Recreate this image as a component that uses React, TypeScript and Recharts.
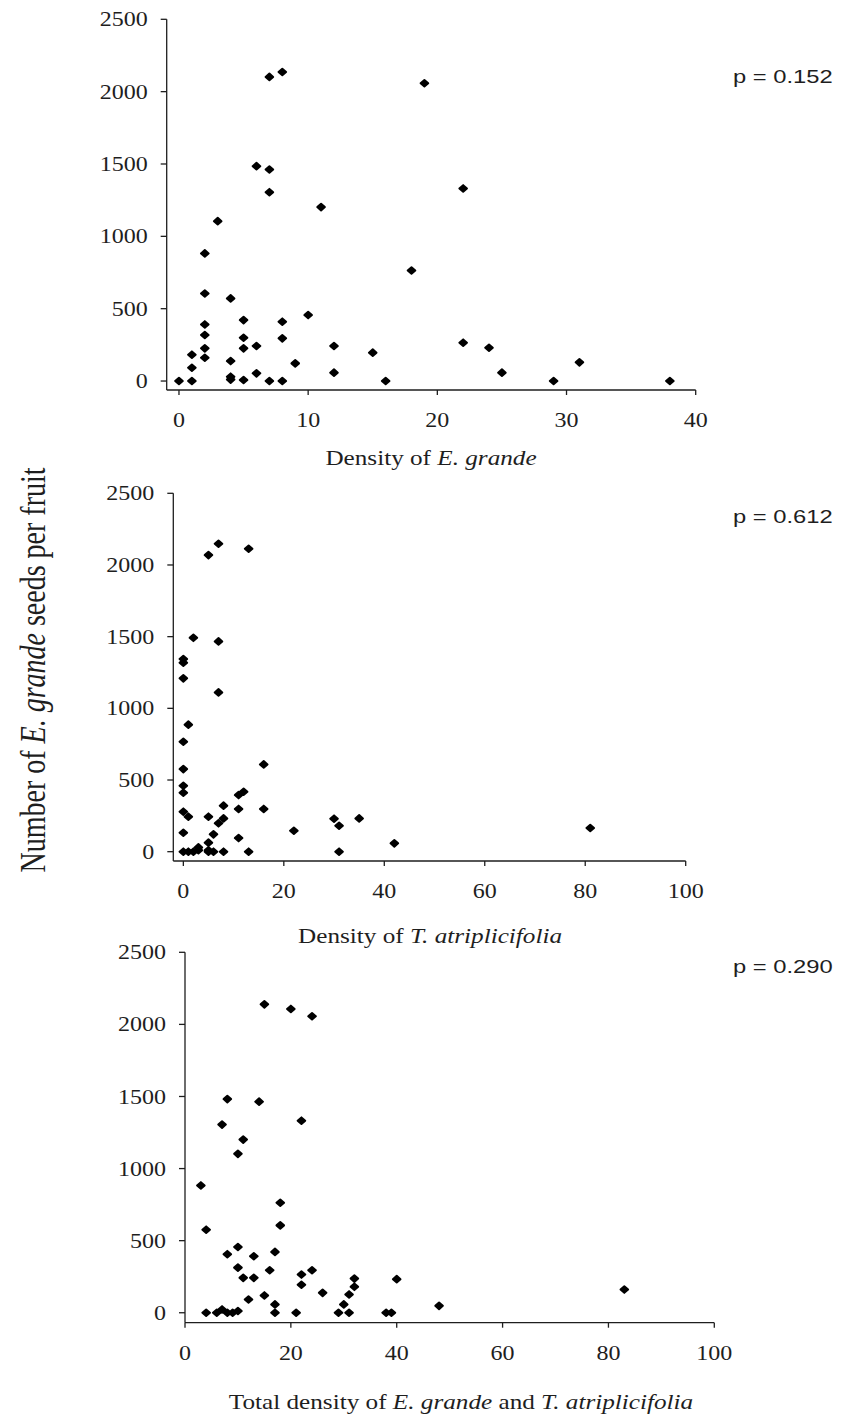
import { ScatterChart, Scatter, XAxis, YAxis } from "recharts";

// panel 1: density of E. grande
const egDensity = [0, 1, 1, 1, 2, 2, 2, 2, 2, 2, 3, 4, 4, 4, 4, 5, 5, 5, 5, 6, 6, 6, 7, 7, 7, 7, 8, 8, 8, 8, 9, 10, 11, 12, 12, 15, 16, 18, 19, 22, 22, 24, 25, 29, 31, 38];
const egSeeds = [0, 0, 92, 182, 161, 226, 318, 391, 605, 882, 1105, 138, 30, 10, 571, 421, 299, 226, 7, 242, 53, 1485, 1462, 1305, 2102, 0, 2136, 410, 295, 0, 122, 456, 1202, 242, 58, 196, 0, 764, 2058, 1331, 265, 230, 58, 0, 129, 0];

// panel 2: density of T. atriplicifolia
const taDensity = [0, 1, 2, 3, 3, 5, 5, 5, 6, 8, 13, 31, 0, 0, 1, 0, 0, 0, 0, 1, 0, 0, 0, 2, 7, 7, 5, 7, 13, 5, 6, 7, 8, 8, 11, 11, 11, 12, 16, 16, 22, 30, 31, 35, 42, 81];
const taSeeds = [0, 0, 0, 10, 30, 0, 10, 63, 0, 0, 0, 0, 132, 279, 244, 411, 460, 576, 767, 886, 1209, 1318, 1344, 1492, 1467, 1111, 2069, 2148, 2113, 244, 121, 198, 232, 321, 95, 298, 395, 418, 609, 298, 146, 230, 181, 232, 58, 165];

// panel 3: total density
const totalDensity = [3, 4, 4, 6, 7, 8, 9, 10, 8, 7, 11, 10, 8, 10, 10, 11, 12, 13, 13, 14, 15, 15, 16, 17, 17, 17, 18, 18, 20, 21, 22, 22, 22, 24, 24, 26, 29, 30, 31, 31, 32, 32, 38, 39, 40, 48, 83];
const totalSeeds = [883, 576, 0, 0, 23, 0, 0, 12, 1482, 1305, 1201, 1102, 406, 456, 313, 242, 92, 392, 242, 1464, 2139, 120, 295, 422, 58, 0, 763, 606, 2107, 0, 1332, 265, 194, 2056, 295, 138, 0, 58, 0, 127, 180, 237, 0, 0, 233, 48, 161];

const seedTicks = [0, 500, 1000, 1500, 2000, 2500];
const egTicks = [0, 10, 20, 30, 40];
const taTicks = [0, 20, 40, 60, 80, 100];

const pValues = ["p = 0.152", "p = 0.612", "p = 0.290"];

const toPoints = (xs: number[], ys: number[]) => xs.map((x, i) => ({ x, y: ys[i] }));

const SERIF = "'Liberation Serif', 'Times New Roman', serif";
const INK = "#1e1e1e";
const STRETCH = 1.2;
const TITLE_STRETCH = 1.26;

const Diamond = (props: any) => {
  const { cx, cy } = props;
  if (cx == null || cy == null) return null;
  const w = 3.8;
  const h = 3.3;
  return (
    <path
      d={`M${cx - w},${cy} L${cx},${cy - h} L${cx + w},${cy} L${cx},${cy + h} Z`}
      fill="#000"
      stroke="#000"
      strokeWidth={2}
      strokeLinejoin="round"
    />
  );
};

const XTick = ({ x, y, payload }: any) => (
  <g transform={`translate(${x},${y}) scale(${STRETCH},1)`}>
    <text textAnchor="middle" dy="0.71em" fontFamily={SERIF} fontSize={20} fill={INK}>
      {payload.value}
    </text>
  </g>
);

const YTick = ({ x, y, payload }: any) => (
  <g transform={`translate(${x},${y}) scale(${STRETCH},1)`}>
    <text textAnchor="end" dy="0.355em" fontFamily={SERIF} fontSize={20} fill={INK}>
      {payload.value}
    </text>
  </g>
);

interface PanelProps {
  top: number;
  height: number;
  margin: { top: number; right: number; bottom: number; left: number };
  data: { x: number; y: number }[];
  xDomain: [number, number];
  xTicks: number[];
  yDomain: [number, number];
}

function Panel({ top, height, margin, data, xDomain, xTicks, yDomain }: PanelProps) {
  return (
    <div style={{ position: "absolute", left: 0, top, width: 857, height }}>
      <ScatterChart width={857} height={height} margin={margin}>
        <XAxis
          type="number"
          dataKey="x"
          domain={xDomain}
          ticks={xTicks}
          interval={0}
          height={40}
          stroke={INK}
          strokeWidth={1.3}
          tickSize={5}
          tickMargin={18}
          tick={<XTick />}
        />
        <YAxis
          type="number"
          dataKey="y"
          domain={yDomain}
          ticks={seedTicks}
          interval={0}
          width={60}
          stroke={INK}
          strokeWidth={1.3}
          tickSize={6}
          tickMargin={13}
          tick={<YTick />}
        />
        <Scatter data={data} shape={<Diamond />} isAnimationActive={false} />
      </ScatterChart>
    </div>
  );
}

export default function App() {
  return (
    <div style={{ position: "absolute", left: 0, top: 0, width: 857, height: 1418, background: "#fff" }}>
      <Panel
        top={0}
        height={480}
        margin={{ top: 19.3, right: 161.3, bottom: 50, left: 106.7 }}
        data={toPoints(egDensity, egSeeds)}
        xDomain={[-0.95, 40]}
        xTicks={egTicks}
        yDomain={[-62, 2500]}
      />
      <Panel
        top={470}
        height={480}
        margin={{ top: 23.3, right: 171.3, bottom: 49, left: 113.3 }}
        data={toPoints(taDensity, taSeeds)}
        xDomain={[-2, 100]}
        xTicks={taTicks}
        yDomain={[-65, 2500]}
      />
      <Panel
        top={940}
        height={478}
        margin={{ top: 12.3, right: 142.7, bottom: 55.3, left: 125 }}
        data={toPoints(totalDensity, totalSeeds)}
        xDomain={[0, 100]}
        xTicks={taTicks}
        yDomain={[-69, 2500]}
      />
      <svg
        width={857}
        height={1418}
        style={{ position: "absolute", left: 0, top: 0, pointerEvents: "none" }}
      >
        <g fontFamily={SERIF} fontSize={20} fill={INK}>
          <g transform={`translate(431,465) scale(${TITLE_STRETCH},1)`}>
            <text textAnchor="middle">
              Density of <tspan fontStyle="italic">E. grande</tspan>
            </text>
          </g>
          <g transform={`translate(430,943) scale(${TITLE_STRETCH},1)`}>
            <text textAnchor="middle">
              Density of <tspan fontStyle="italic">T. atriplicifolia</tspan>
            </text>
          </g>
          <g transform={`translate(461,1409) scale(${TITLE_STRETCH},1)`}>
            <text textAnchor="middle">
              Total density of <tspan fontStyle="italic">E. grande</tspan> and{" "}
              <tspan fontStyle="italic">T. atriplicifolia</tspan>
            </text>
          </g>
        </g>
        <g transform={`translate(33,670) scale(1.25,1) rotate(-90)`}>
          <text textAnchor="middle" dominantBaseline="central" fontFamily={SERIF} fontSize={28} fill={INK}>
            Number of <tspan fontStyle="italic">E. grande</tspan> seeds per fruit
          </text>
        </g>
        <g fontFamily="'Liberation Sans', Arial, sans-serif" fontSize={19} fill={INK}>
          {pValues.map((p, i) => (
            <g key={p} transform={`translate(733,${[83, 523, 973][i]}) scale(1.25,1)`}>
              <text>{p}</text>
            </g>
          ))}
        </g>
      </svg>
    </div>
  );
}
